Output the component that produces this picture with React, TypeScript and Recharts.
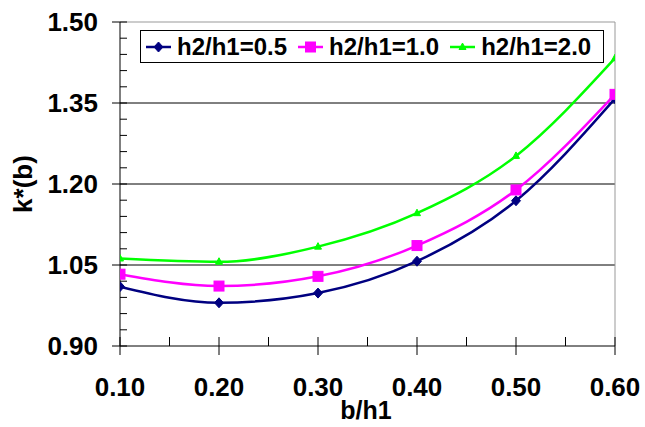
import { LineChart, Line, XAxis, YAxis, ReferenceLine, Legend } from 'recharts';

const bh1 = [0.1, 0.2, 0.3, 0.4, 0.5, 0.6];
const ratio05 = [1.010, 0.980, 0.998, 1.057, 1.169, 1.358];
const ratio10 = [1.033, 1.011, 1.029, 1.086, 1.189, 1.366];
const ratio20 = [1.062, 1.056, 1.084, 1.146, 1.252, 1.433];

const xTicks = [0.1, 0.15, 0.2, 0.25, 0.3, 0.35, 0.4, 0.45, 0.5, 0.55, 0.6];
const yTicks = [0.9, 0.93, 0.96, 0.99, 1.02, 1.05, 1.08, 1.11, 1.14, 1.17, 1.2, 1.23, 1.26, 1.29, 1.32, 1.35, 1.38, 1.41, 1.44, 1.47, 1.5];
const yMajor = [0.9, 1.05, 1.2, 1.35, 1.5];
const gridLines = [1.05, 1.2, 1.35];

const data = bh1.map((b, i) => ({ b, r05: ratio05[i], r10: ratio10[i], r20: ratio20[i] }));

const FONT = '"Liberation Sans", Arial, sans-serif';
const NAVY = '#000080';
const MAGENTA = '#ff00ff';
const GREEN = '#00ff00';

const isMajorX = (v: number) => Math.round(v * 100) % 10 === 0;
const isMajorY = (v: number) => yMajor.some((m) => Math.abs(m - v) < 1e-6);

const XTick = (props: any) => {
  const { x, y, payload } = props;
  const v = payload.value as number;
  if (!isMajorX(v)) {
    return <line x1={x} x2={x} y1={y - 9} y2={y} stroke="#000" />;
  }
  return (
    <g>
      <line x1={x} x2={x} y1={y - 9} y2={y + 9} stroke="#000" />
      <text x={x} y={y + 41} textAnchor="middle" dominantBaseline="central"
        fontFamily={FONT} fontWeight="bold" fontSize={26} fill="#000">
        {v.toFixed(2)}
      </text>
    </g>
  );
};

const YTick = (props: any) => {
  const { x, y, payload } = props;
  const v = payload.value as number;
  if (!isMajorY(v)) {
    return <line x1={x} x2={x + 7} y1={y} y2={y} stroke="#000" />;
  }
  return (
    <g>
      <line x1={x - 8} x2={x + 7} y1={y} y2={y} stroke="#000" />
      <text x={x - 22} y={y} textAnchor="end" dominantBaseline="central"
        fontFamily={FONT} fontWeight="bold" fontSize={26} fill="#000">
        {v.toFixed(2)}
      </text>
    </g>
  );
};

const Diamond = ({ cx, cy, color }: any) => (
  <polygon points={`${cx},${cy - 5} ${cx + 4.5},${cy} ${cx},${cy + 5} ${cx - 4.5},${cy}`} fill={color} stroke={color} />
);
const Square = ({ cx, cy, color }: any) => (
  <rect x={cx - 5} y={cy - 5} width={10} height={10} fill={color} stroke={color} />
);
const Triangle = ({ cx, cy, color }: any) => (
  <polygon points={`${cx},${cy - 4} ${cx + 3.5},${cy + 2.5} ${cx - 3.5},${cy + 2.5}`} fill={color} stroke={color} />
);

const series = [
  { key: 'r05', name: 'h2/h1=0.5', color: NAVY, Marker: Diamond },
  { key: 'r10', name: 'h2/h1=1.0', color: MAGENTA, Marker: Square },
  { key: 'r20', name: 'h2/h1=2.0', color: GREEN, Marker: Triangle },
];

const LegendBox = () => (
  <div style={{
    display: 'flex', alignItems: 'center', border: '1.5px solid #000', height: 31,
    width: 457, boxSizing: 'content-box', background: '#fff', fontFamily: FONT,
    fontWeight: 'bold', fontSize: 24, paddingLeft: 5,
  }}>
    {series.map((s) => (
      <div key={s.key} style={{ display: 'flex', alignItems: 'center', marginRight: 11 }}>
        <svg width={25} height={14}>
          <line x1={0} x2={25} y1={7} y2={7} stroke={s.color} strokeWidth={2.5} />
          <s.Marker cx={12.5} cy={7} color={s.color} />
        </svg>
        <span style={{ marginLeft: 6, lineHeight: '31px' }}>{s.name}</span>
      </div>
    ))}
  </div>
);

export default function App() {
  return (
    <div style={{ position: 'absolute', left: 0, top: 0, width: 645, height: 427, background: '#fff' }}>
      <LineChart width={645} height={427} data={data} margin={{ top: 22, right: 30, left: 0, bottom: 0 }}>
        <XAxis dataKey="b" type="number" domain={[0.1, 0.6]} ticks={xTicks} interval={0}
          tickSize={0} tickMargin={0} tick={<XTick />} height={81} stroke="#000"
          allowDataOverflow />
        <YAxis type="number" domain={[0.9, 1.5]} ticks={yTicks} interval={0}
          tickSize={0} tickMargin={0} tick={<YTick />} width={120} stroke="#000"
          allowDataOverflow />
        {gridLines.map((g) => (
          <ReferenceLine key={g} y={g} stroke="#000" strokeWidth={1} />
        ))}
        <ReferenceLine y={1.5} stroke="#999" strokeWidth={1} />
        <ReferenceLine x={0.6} stroke="#999" strokeWidth={1} />
        {series.map((s) => (
          <Line key={s.key} dataKey={s.key} name={s.name} type="monotone" stroke={s.color}
            strokeWidth={2.5} isAnimationActive={false}
            dot={(p: any) => <s.Marker key={`${s.key}-${p.index}`} cx={p.cx} cy={p.cy} color={s.color} />} />
        ))}
        <Legend layout="horizontal" verticalAlign="middle" align="center"
          wrapperStyle={{ left: 140, top: 30, width: 465, height: 34 }}
          content={() => <LegendBox />} />
      </LineChart>
      <div style={{ position: 'absolute', left: 23, top: 184, transform: 'translate(-50%, -50%) rotate(-90deg)',
        fontFamily: FONT, fontWeight: 'bold', fontSize: 26, whiteSpace: 'nowrap' }}>k*(b)</div>
      <div style={{ position: 'absolute', left: 366, top: 410, transform: 'translate(-50%, -50%)',
        fontFamily: FONT, fontWeight: 'bold', fontSize: 25, whiteSpace: 'nowrap' }}>b/h1</div>
    </div>
  );
}
